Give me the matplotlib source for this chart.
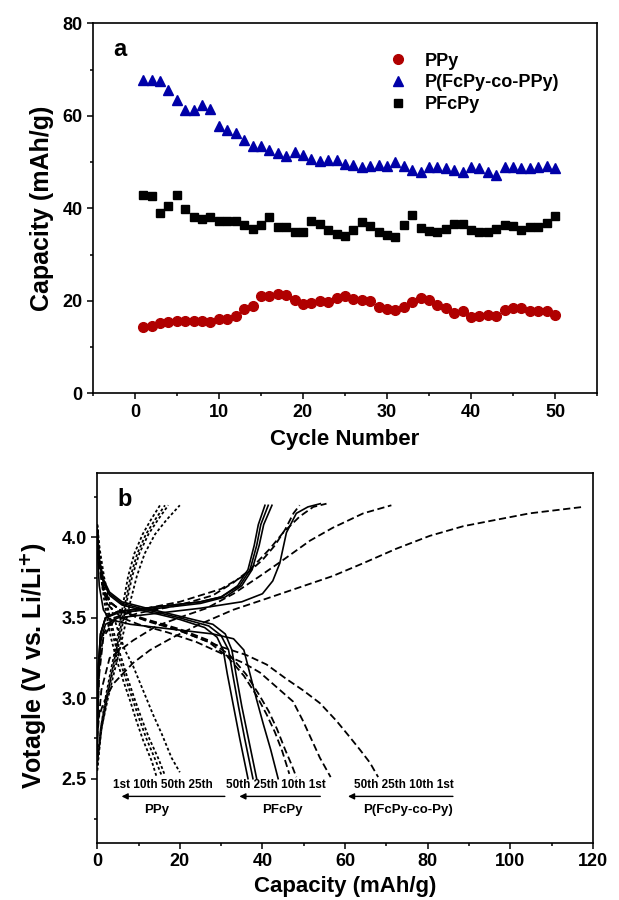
# capacity vs cycle (a) and charge/discharge profiles (b)

import numpy as np
import matplotlib
matplotlib.use("Agg")
import matplotlib.pyplot as plt
from matplotlib.ticker import MultipleLocator

plt.rcParams['font.family'] = ['Liberation Sans', 'DejaVu Sans']
plt.rcParams['font.weight'] = 'bold'

# ---- panel a data ----
cycles = np.arange(1, 51)
ppy = [14.4, 14.5, 15.2, 15.4, 15.6, 15.6, 15.6, 15.7, 15.5, 16.0,
       16.1, 16.7, 18.2, 18.8, 21.1, 21.1, 21.4, 21.3, 20.1, 19.3,
       19.6, 19.9, 19.8, 20.7, 21.1, 20.4, 20.1, 20.0, 18.6, 18.2,
       18.0, 18.6, 19.8, 20.7, 20.1, 19.1, 18.4, 17.3, 17.7, 16.4,
       16.7, 17.0, 16.8, 18.1, 18.4, 18.4, 17.8, 17.7, 17.8, 16.9]
pcopy = [67.7, 67.7, 67.5, 65.7, 63.4, 61.2, 61.2, 62.4, 61.4, 57.8,
         56.9, 56.4, 54.8, 53.5, 53.5, 52.6, 51.9, 51.3, 52.1, 51.5,
         50.7, 50.3, 50.5, 50.5, 49.5, 49.4, 49.0, 49.2, 49.4, 49.2,
         50.1, 49.2, 48.3, 47.8, 49.0, 49.0, 48.8, 48.3, 47.8, 48.9,
         48.7, 47.8, 47.2, 48.9, 49.0, 48.8, 48.7, 49.0, 49.1, 48.8]
pfcpy = [42.9, 42.6, 39.1, 40.6, 42.9, 39.8, 38.1, 37.8, 38.2, 37.3,
         37.3, 37.3, 36.3, 35.6, 36.3, 38.2, 35.9, 35.9, 34.8, 34.8,
         37.2, 36.7, 35.3, 34.5, 34.1, 35.4, 37.1, 36.1, 34.9, 34.2,
         33.8, 36.5, 38.5, 35.8, 35.2, 34.8, 35.6, 36.6, 36.7, 35.4,
         34.9, 34.9, 35.6, 36.3, 36.1, 35.4, 35.9, 35.9, 36.8, 38.3]

# ---- panel b data (capacity mAh/g, voltage V), cycles 1st, 10th, 25th, 50th ----
# PPy (dotted)
ppy_chg_cap = [[0, 0.8, 2.0, 3.2, 4.5, 5.5, 6.5, 7.5, 9.0, 11.0, 13.0, 15.2],
               [0, 0.9, 2.2, 3.5, 4.8, 5.9, 7.0, 8.1, 9.7, 11.8, 14.0, 16.4],
               [0, 1.1, 2.6, 4.1, 5.6, 6.9, 8.2, 9.6, 11.5, 14.0, 16.8, 20.0],
               [0, 1.0, 2.4, 3.7, 5.1, 6.2, 7.3, 8.5, 10.2, 12.4, 14.7, 17.2]]
ppy_chg_v = [[2.55, 2.8, 3.0, 3.16, 3.32, 3.47, 3.62, 3.76, 3.9, 4.02, 4.11, 4.2],
             [2.6, 2.82, 3.0, 3.16, 3.32, 3.47, 3.62, 3.76, 3.9, 4.02, 4.11, 4.2],
             [2.6, 2.82, 3.0, 3.16, 3.32, 3.47, 3.62, 3.76, 3.9, 4.02, 4.11, 4.2],
             [2.55, 2.8, 3.0, 3.16, 3.32, 3.47, 3.62, 3.76, 3.9, 4.02, 4.11, 4.2]]
ppy_dis_cap = [[0, 0.4, 1.2, 2.2, 3.3, 4.7, 6.3, 7.9, 9.5, 11.1, 13.2, 14.4],
               [0, 0.4, 1.3, 2.5, 3.7, 5.2, 6.9, 8.5, 10.2, 11.9, 14.2, 15.6],
               [0, 0.6, 1.7, 3.2, 4.8, 6.7, 8.7, 11.1, 13.5, 15.6, 18.0, 20.0],
               [0, 0.5, 1.4, 2.7, 4.0, 5.6, 7.3, 9.0, 10.8, 12.6, 14.9, 16.4]]
ppy_dis_v = [[4.08, 3.9, 3.7, 3.52, 3.38, 3.24, 3.11, 2.99, 2.86, 2.74, 2.61, 2.51],
             [4.08, 3.92, 3.72, 3.54, 3.4, 3.26, 3.12, 3.0, 2.87, 2.75, 2.61, 2.52],
             [4.08, 3.93, 3.75, 3.58, 3.44, 3.3, 3.2, 3.05, 2.9, 2.78, 2.63, 2.54],
             [4.08, 3.92, 3.73, 3.55, 3.41, 3.27, 3.13, 3.0, 2.87, 2.75, 2.62, 2.52]]

# PFcPy (solid)
pfc_chg_cap = [[0, 0.3, 0.8, 2, 5, 15, 25, 35, 40, 42.5, 44.2, 45.8, 48.2, 51, 54],
               [0, 0.3, 0.9, 2, 5, 15, 25, 31, 35, 37.5, 39.2, 40.3, 42.3],
               [0, 0.3, 0.8, 2, 5, 15, 25, 30, 34.5, 37, 38.6, 39.6, 41.4],
               [0, 0.3, 0.8, 2, 5, 15, 25, 30, 34, 36.5, 38, 39, 40.6]]
pfc_chg_v = [[2.65, 3.1, 3.35, 3.46, 3.5, 3.53, 3.56, 3.6, 3.65, 3.73, 3.84, 4.03, 4.15, 4.19, 4.21],
             [2.7, 3.2, 3.4, 3.5, 3.53, 3.56, 3.59, 3.63, 3.7, 3.8, 3.95, 4.08, 4.2],
             [2.7, 3.2, 3.4, 3.5, 3.54, 3.57, 3.6, 3.63, 3.7, 3.8, 3.95, 4.08, 4.2],
             [2.75, 3.2, 3.4, 3.5, 3.54, 3.57, 3.6, 3.63, 3.7, 3.8, 3.95, 4.08, 4.2]]
pfc_dis_cap = [[0, 0.5, 1.5, 3, 8, 18, 28, 33, 35.5, 37, 38.5, 40.2, 42, 43.8],
               [0, 0.5, 1.5, 3, 6, 12, 20, 28, 31, 32.6, 33.6, 35, 36.6, 38.6],
               [0, 0.5, 1.5, 3, 6, 12, 20, 27, 30, 31.8, 32.8, 34.2, 35.7, 37.7],
               [0, 0.5, 1.5, 3, 6, 12, 20, 26, 29, 30.5, 31.5, 33, 34.5, 36.5]]
pfc_dis_v = [[3.95, 3.7, 3.55, 3.49, 3.46, 3.43, 3.4, 3.37, 3.3, 3.15, 3.0, 2.84, 2.68, 2.5],
             [4.05, 3.87, 3.74, 3.66, 3.6, 3.56, 3.51, 3.46, 3.4, 3.3, 3.15, 2.95, 2.75, 2.5],
             [4.05, 3.86, 3.73, 3.65, 3.59, 3.55, 3.5, 3.45, 3.39, 3.3, 3.15, 2.95, 2.75, 2.5],
             [4.05, 3.85, 3.72, 3.64, 3.58, 3.54, 3.49, 3.44, 3.38, 3.3, 3.15, 2.95, 2.75, 2.5]]

# P(FcPy-co-PPy) (dashed)
co_chg_cap = [[0, 1.5, 3.9, 8.7, 12.8, 18.4, 24.8, 32.9, 41, 49, 57, 64.4, 72.4, 80.5, 88.6, 96.6, 104.7, 117.6],
              [0, 1, 3, 8.7, 14.4, 20.8, 26.5, 33, 39.4, 45, 51.5, 57, 64.4, 71.2],
              [0, 0.5, 1.5, 4, 10, 20, 28, 33, 37, 41.8, 45, 49, 52.3, 55.5],
              [0, 0.5, 1.5, 4, 10, 20, 30, 36, 40, 43, 45.5, 47.5, 49]]
co_chg_v = [[2.85, 2.97, 3.09, 3.22, 3.3, 3.38, 3.46, 3.55, 3.62, 3.69, 3.76, 3.84, 3.93, 4.01, 4.07, 4.11, 4.15, 4.19],
            [2.75, 3.05, 3.25, 3.36, 3.45, 3.51, 3.56, 3.65, 3.76, 3.86, 3.98, 4.06, 4.15, 4.2],
            [2.8, 3.15, 3.38, 3.48, 3.53, 3.58, 3.64, 3.72, 3.8, 3.93, 4.03, 4.13, 4.19, 4.21],
            [2.85, 3.2, 3.4, 3.5, 3.55, 3.6, 3.68, 3.77, 3.86, 3.95, 4.05, 4.15, 4.2]]
co_dis_cap = [[0, 0.5, 1.5, 3, 6, 10, 17, 24, 30, 36, 41, 45.8, 49.8, 53.9, 57.9, 61.1, 63.6, 66, 68],
              [0, 0.5, 1.5, 3, 6, 10, 17, 24, 30, 35.4, 39.4, 43.4, 47.4, 49.8, 52.3, 53.9, 56.5],
              [0, 0.5, 1.5, 3, 6, 12, 20, 27, 32, 36, 39, 41.5, 43.5, 45.5, 47, 48.2],
              [0, 0.5, 1.5, 3, 6, 12, 20, 27, 31.5, 35.5, 38.5, 41, 43, 44.8, 46.5]]
co_dis_v = [[4.05, 3.85, 3.7, 3.6, 3.54, 3.5, 3.45, 3.38, 3.32, 3.27, 3.21, 3.12, 3.05, 2.97, 2.86, 2.76, 2.68, 2.6, 2.51],
            [4.05, 3.83, 3.66, 3.57, 3.5, 3.46, 3.41, 3.35, 3.28, 3.22, 3.16, 3.07, 2.98, 2.86, 2.72, 2.63, 2.51],
            [4.05, 3.84, 3.68, 3.6, 3.54, 3.49, 3.43, 3.36, 3.27, 3.15, 3.03, 2.92, 2.81, 2.68, 2.59, 2.51],
            [4.05, 3.84, 3.68, 3.6, 3.54, 3.48, 3.42, 3.35, 3.26, 3.14, 3.02, 2.9, 2.79, 2.67, 2.53]]

# ---- figure ----
fig = plt.figure(figsize=(6.19, 9.0), dpi=100)
ax1 = fig.add_axes([0.150, 0.563, 0.8145, 0.411])
ax2 = fig.add_axes([0.157, 0.0633, 0.801, 0.411])

for ax in (ax1, ax2):
    for s in ax.spines.values():
        s.set_linewidth(1.2)
    ax.tick_params(which='both', direction='out', top=False, right=False,
                   width=1.1, labelsize=13)
    ax.tick_params(which='major', length=4)
    ax.tick_params(which='minor', length=2.5)

# panel a
ax1.plot(cycles, ppy, ls='none', marker='o', ms=7, color='#b00000', label='PPy')
ax1.plot(cycles, pcopy, ls='none', marker='^', ms=7.5, color='#0000a8', label='P(FcPy-co-PPy)')
ax1.plot(cycles, pfcpy, ls='none', marker='s', ms=6, color='black', label='PFcPy')
ax1.set_xlim(-5, 55)
ax1.set_ylim(0, 80)
ax1.xaxis.set_major_locator(MultipleLocator(10))
ax1.xaxis.set_minor_locator(MultipleLocator(5))
ax1.yaxis.set_major_locator(MultipleLocator(20))
ax1.yaxis.set_minor_locator(MultipleLocator(10))
ax1.set_xlabel('Cycle Number', fontsize=16, fontweight='bold', labelpad=6)
ax1.set_ylabel('Capacity (mAh/g)', fontsize=18, fontweight='bold', labelpad=6)
ax1.text(0.04, 0.93, 'a', transform=ax1.transAxes, fontsize=17, fontweight='bold', va='center')
ax1.legend(loc='upper left', bbox_to_anchor=(0.555, 0.94), frameon=False, fontsize=13,
           handletextpad=0.5, labelspacing=0.25, borderaxespad=0)

# panel b
dot = (0, (1.6, 1.3))
dash = (0, (4, 2))
for xs, ys in zip(ppy_chg_cap, ppy_chg_v):
    ax2.plot(xs, ys, color='black', lw=1.3, ls=dot)
for xs, ys in zip(ppy_dis_cap, ppy_dis_v):
    ax2.plot(xs, ys, color='black', lw=1.3, ls=dot)
for xs, ys in zip(pfc_chg_cap, pfc_chg_v):
    ax2.plot(xs, ys, color='black', lw=1.2, ls='-')
for xs, ys in zip(pfc_dis_cap, pfc_dis_v):
    ax2.plot(xs, ys, color='black', lw=1.2, ls='-')
for xs, ys in zip(co_chg_cap, co_chg_v):
    ax2.plot(xs, ys, color='black', lw=1.3, ls=dash)
for xs, ys in zip(co_dis_cap, co_dis_v):
    ax2.plot(xs, ys, color='black', lw=1.3, ls=dash)

ax2.set_xlim(0, 120)
ax2.set_ylim(2.1, 4.4)
ax2.xaxis.set_major_locator(MultipleLocator(20))
ax2.xaxis.set_minor_locator(MultipleLocator(10))
ax2.yaxis.set_major_locator(MultipleLocator(0.5))
ax2.yaxis.set_minor_locator(MultipleLocator(0.25))
ax2.set_xlabel('Capacity (mAh/g)', fontsize=16, fontweight='bold', labelpad=4)
ax2.set_ylabel('Votagle (V vs. Li/Li$^{\\mathbf{+}}$)', fontsize=18, fontweight='bold', labelpad=4)
ax2.yaxis.set_label_coords(-0.1, 0.48)
ax2.text(0.04, 0.93, 'b', transform=ax2.transAxes, fontsize=17, fontweight='bold', va='center')

# cycle order labels with arrows
ann = [('1st 10th 50th 25th', 'PPy', 15.9, 14.4, 30.9, 5.9),
       ('50th 25th 10th 1st', 'PFcPy', 43.2, 44.8, 54.0, 34.4),
       ('50th 25th 10th 1st', 'P(FcPy-co-Py)', 74.2, 75.3, 86.1, 60.7)]
for order, name, xo, xn, xa0, xa1 in ann:
    ax2.text(xo, 2.46, order, fontsize=8.5, fontweight='bold', ha='center', va='center')
    ax2.text(xn, 2.305, name, fontsize=9.5, fontweight='bold', ha='center', va='center')
    ax2.annotate('', xy=(xa1, 2.39), xytext=(xa0, 2.39),
                 arrowprops=dict(arrowstyle='-|>', color='black', lw=1.0,
                                 mutation_scale=9, shrinkA=0, shrinkB=0))

fig.savefig('out.png', dpi=100)
